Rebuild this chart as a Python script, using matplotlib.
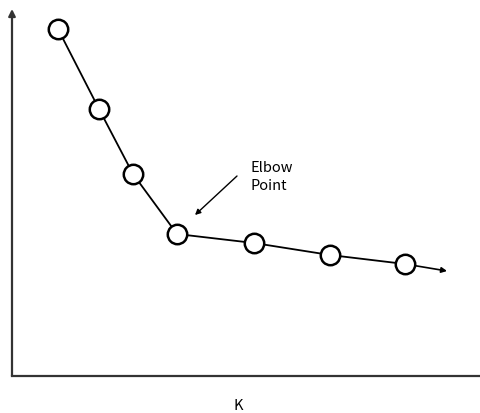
import matplotlib.pyplot as plt

# elbow curve (arbitrary units)
k_pos = [46, 87, 121, 165, 242, 318, 393]
score = [347, 267, 202, 142, 133, 121, 112]
tail = (435, 105)  # where the trailing arrow ends

fig = plt.figure(figsize=(4.8, 4.14), dpi=100)
ax = fig.add_axes([12 / 480, 37 / 414, 468 / 480, 367 / 414])
ax.set_xlim(0, 468)
ax.set_ylim(0, 367)

for s in ['top', 'right', 'left']:
    ax.spines[s].set_visible(False)
ax.spines['bottom'].set_linewidth(1.6)
ax.spines['bottom'].set_color('#333333')
ax.set_xticks([])
ax.set_yticks([])

# y axis with arrowhead
ax.annotate('', xy=(0, 367), xytext=(0, 0), annotation_clip=False,
            arrowprops=dict(arrowstyle='-|>', color='#333333', lw=1.6,
                            mutation_scale=10, shrinkA=0, shrinkB=0))

# trailing line with arrow past the last point
ax.annotate('', xy=tail, xytext=(k_pos[-1], score[-1]),
            arrowprops=dict(arrowstyle='-|>', color='black', lw=1.2,
                            mutation_scale=8, shrinkA=0, shrinkB=0))

ax.plot(k_pos, score, color='black', lw=1.3, marker='o', markersize=14,
        markerfacecolor='white', markeredgecolor='black', markeredgewidth=1.8,
        zorder=3)

# elbow annotation
ax.annotate('', xy=(183, 161), xytext=(225, 200),
            arrowprops=dict(arrowstyle='-|>', color='black', lw=1.0,
                            mutation_scale=8, shrinkA=0, shrinkB=0))
ax.text(238, 200, 'Elbow\nPoint', fontsize=10.5, ha='left', va='center',
        linespacing=1.3, family=['Noto Sans CJK KR', 'DejaVu Sans'])

# x axis label
fig.text(238 / 480, 1 - 406 / 414, 'K', fontsize=10.5, ha='center', va='center',
         family=['Noto Sans CJK KR', 'DejaVu Sans'])

fig.savefig('out.png', dpi=100)
